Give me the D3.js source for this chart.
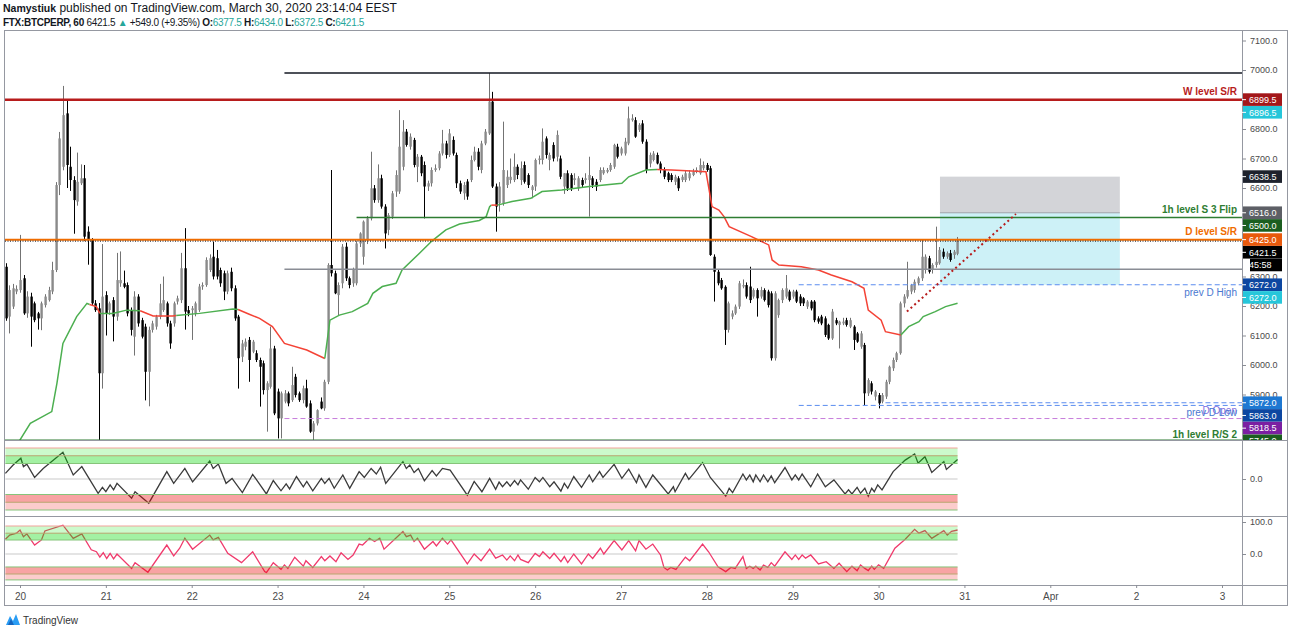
<!DOCTYPE html>
<html>
<head>
<meta charset="utf-8">
<script src="https://cdn.jsdelivr.net/npm/d3@7"></script>
<style>
  body { margin: 0; background: #fff; }
  svg { display: block; font-family: "Liberation Sans", Arial, sans-serif; }
</style>
</head>
<body>
<div class="chart"></div>
<script>
// ---- data (FTX:BTCPERP, 60 min) ----
const candleStart = 19 + 20 / 24;   // first bar: Mar 19, 20:00
// [open, high, low, close]
const candles = [
  [6333,6345,6150,6158],[6164,6270,6107,6254],[6198,6275,6190,6260],[6249,6270,6240,6258],[6254,6441,6245,6288],
  [6294,6305,6170,6175],[6175,6250,6160,6232],[6232,6245,6062,6164],[6209,6215,6145,6152],[6175,6180,6120,6158],
  [6158,6215,6118,6209],[6203,6240,6195,6232],[6220,6265,6215,6254],[6249,6350,6240,6322],[6322,6620,6315,6610],
  [6610,6790,6576,6768],[6672,6946,6660,6847],[6853,6900,6600,6678],[6672,6740,6590,6627],[6627,6640,6445,6559],
  [6554,6720,6540,6621],[6616,6680,6610,6633],[6633,6678,6420,6435],[6452,6470,6340,6424],[6424,6430,6200,6209],
  [6209,6220,6180,6186],[6192,6210,5746,5972],[5972,6410,5920,6232],[6237,6250,6100,6175],[6186,6215,6170,6209],
  [6220,6230,6080,6164],[6164,6380,6150,6288],[6277,6385,6265,6288],[6277,6320,6260,6265],[6271,6280,6165,6175],
  [6186,6195,6100,6119],[6096,6250,6032,6232],[6232,6240,6130,6141],[6152,6160,6090,6096],[6130,6140,5880,5977],
  [5977,6130,5860,6119],[6119,6150,6110,6141],[6130,6170,6120,6164],[6164,6275,6155,6209],[6186,6300,6180,6220],
  [6209,6215,6130,6141],[6141,6150,6055,6073],[6141,6215,6130,6209],[6215,6235,6205,6226],[6220,6380,6210,6328],
  [6328,6464,6120,6181],[6186,6200,6165,6175],[6186,6200,6085,6192],[6175,6215,6165,6209],[6186,6275,6180,6266],
  [6266,6280,6255,6271],[6271,6365,6265,6356],[6322,6375,6315,6362],[6367,6418,6290,6300],[6362,6390,6290,6300],
  [6322,6330,6265,6277],[6311,6320,6220,6249],[6249,6320,6240,6311],[6316,6330,6250,6260],[6260,6270,6150,6158],
  [6164,6170,5920,6023],[6028,6085,6010,6073],[6062,6090,6050,6079],[6085,6095,5943,6017],[6045,6085,6040,6079],
  [6040,6050,6010,6017],[6017,6025,5859,5994],[6006,6015,5900,5915],[5915,5945,5774,5938],[5926,6130,5920,6056],
  [6056,6065,5830,5836],[5910,5920,5751,5819],[5819,5910,5751,5904],[5876,5915,5870,5904],[5904,5910,5860,5870],
  [5881,5994,5875,5932],[5960,5970,5890,5898],[5904,5910,5875,5881],[5881,5930,5870,5921],[5921,5950,5855,5859],
  [5870,5880,5770,5774],[5774,5810,5746,5802],[5802,5850,5795,5847],[5876,5890,5850,5853],[5853,5950,5845,5943],
  [5943,6345,5935,6339],[6339,6661,6300,6311],[6311,6320,6240,6243],[6237,6280,6169,6271],[6277,6410,6260,6401],
  [6401,6415,6285,6294],[6294,6300,6260,6271],[6277,6330,6265,6322],[6277,6420,6270,6412],[6412,6450,6400,6446],
  [6367,6490,6340,6486],[6424,6505,6410,6497],[6497,6723,6490,6599],[6599,6610,6550,6559],[6559,6680,6550,6633],
  [6633,6645,6530,6537],[6537,6545,6395,6446],[6458,6515,6440,6508],[6503,6590,6495,6582],[6588,6660,6570,6644],
  [6588,6864,6580,6740],[6672,6830,6660,6791],[6791,6800,6740,6746],[6740,6785,6730,6774],[6763,6770,6670,6678],
  [6672,6715,6620,6706],[6706,6712,6640,6650],[6678,6690,6497,6605],[6605,6625,6590,6616],[6616,6670,6605,6661],
  [6661,6680,6655,6667],[6667,6725,6660,6717],[6717,6797,6710,6751],[6751,6760,6700,6712],[6712,6800,6705,6785],
  [6763,6775,6710,6717],[6712,6720,6600,6616],[6616,6625,6580,6588],[6582,6620,6560,6610],[6622,6630,6560,6571],
  [6627,6710,6620,6695],[6695,6740,6690,6723],[6723,6735,6660,6672],[6661,6760,6650,6751],[6751,6800,6745,6791],
  [6785,6990,6780,6893],[6893,6926,6600,6605],[6605,6615,6452,6537],[6548,6620,6520,6605],[6548,6825,6540,6661],
  [6610,6660,6600,6638],[6627,6700,6615,6638],[6627,6717,6620,6672],[6672,6680,6630,6644],[6627,6690,6610,6667],
  [6678,6690,6615,6621],[6644,6650,6600,6610],[6593,6610,6565,6605],[6605,6700,6590,6695],[6695,6710,6680,6700],
  [6695,6802,6680,6757],[6768,6775,6700,6712],[6695,6720,6660,6712],[6746,6755,6690,6700],[6706,6795,6690,6780],
  [6700,6710,6630,6638],[6605,6650,6580,6650],[6650,6660,6590,6599],[6644,6650,6590,6599],[6627,6650,6610,6633],
  [6599,6640,6590,6633],[6627,6635,6600,6610],[6627,6650,6615,6633],[6627,6706,6503,6644],[6633,6640,6600,6610],
  [6621,6630,6590,6605],[6627,6670,6620,6661],[6650,6670,6645,6661],[6655,6668,6650,6661],[6661,6685,6655,6678],
  [6672,6750,6665,6746],[6740,6750,6700,6706],[6717,6740,6710,6734],[6717,6770,6710,6757],[6751,6876,6745,6836],
  [6830,6850,6825,6836],[6830,6840,6770,6774],[6797,6820,6790,6814],[6819,6830,6750,6757],[6757,6765,6650,6661],
  [6683,6720,6670,6712],[6695,6725,6690,6717],[6712,6720,6680,6683],[6683,6690,6650,6661],[6661,6670,6630,6638],
  [6650,6655,6620,6627],[6644,6650,6620,6627],[6621,6645,6610,6638],[6633,6640,6590,6599],[6627,6645,6620,6638],
  [6627,6660,6620,6650],[6633,6660,6625,6650],[6644,6665,6640,6655],[6655,6670,6650,6661],[6650,6700,6645,6678],
  [6667,6690,6660,6678],[6678,6685,6655,6661],[6667,6675,6370,6373],[6367,6375,6215,6316],[6316,6325,6270,6277],
  [6288,6295,6255,6260],[6265,6270,6068,6119],[6119,6215,6110,6209],[6164,6185,6155,6175],[6175,6205,6170,6198],
  [6198,6285,6190,6277],[6266,6290,6260,6271],[6271,6280,6225,6232],[6266,6333,6210,6220],[6232,6260,6225,6254],
  [6254,6260,6164,6226],[6232,6265,6225,6254],[6254,6260,6215,6220],[6249,6255,6195,6203],[6243,6250,6015,6023],
  [6023,6250,6015,6243],[6169,6225,6160,6220],[6220,6260,6210,6254],[6232,6305,6225,6260],[6249,6255,6215,6220],
  [6232,6255,6225,6249],[6249,6255,6210,6215],[6232,6240,6200,6209],[6226,6230,6200,6209],[6198,6220,6190,6215],
  [6215,6220,6185,6192],[6215,6220,6145,6152],[6158,6165,6140,6147],[6164,6170,6135,6141],[6158,6165,6095,6102],
  [6136,6140,6085,6090],[6090,6190,6085,6181],[6152,6160,6135,6141],[6136,6150,6056,6147],[6141,6160,6135,6147],
  [6152,6160,6130,6136],[6130,6160,6125,6152],[6130,6135,6051,6085],[6107,6112,6075,6079],[6062,6115,6055,6107],
  [6068,6075,5864,5904],[5904,5955,5895,5949],[5938,5945,5900,5910],[5893,5915,5880,5910],[5898,5905,5853,5870],
  [5876,5905,5870,5898],[5893,5950,5885,5943],[5943,5998,5935,5994],[5989,6025,5980,6017],[6017,6045,6010,6040],
  [6040,6215,6035,6209],[6209,6240,6195,6232],[6232,6350,6225,6254],[6249,6275,6240,6271],[6254,6290,6245,6282],
  [6277,6300,6270,6294],[6294,6424,6285,6367],[6322,6375,6310,6367],[6362,6370,6310,6316],[6322,6345,6310,6339],
  [6339,6469,6330,6350],[6345,6400,6340,6390],[6384,6395,6360,6367],[6367,6385,6360,6379],[6379,6390,6350,6356],
  [6373,6390,6360,6384],[6377,6434,6372,6421.5]
];

// trend-coloured average line: segments of [day of March, price]; trend 1 = up (green), -1 = down (red)
const maSegments = [
  { trend: 1,  pts: [[19.9,5700],[20.0,5746],[20.12,5802],[20.37,5842],[20.43,5938],[20.50,6073],[20.66,6164],[20.78,6209],[20.81,6205]] },
  { trend: -1, pts: [[20.81,6205],[20.89,6198],[20.93,6175]] },
  { trend: 1,  pts: [[20.93,6175],[21.08,6175],[21.24,6186],[21.40,6184]] },
  { trend: -1, pts: [[21.40,6184],[21.55,6166],[21.78,6166],[21.82,6168]] },
  { trend: 1,  pts: [[21.82,6168],[22.09,6175],[22.48,6190],[22.54,6188]] },
  { trend: -1, pts: [[22.54,6188],[22.67,6172],[22.79,6158],[22.94,6130],[23.08,6073],[23.34,6051],[23.55,6022]] },
  { trend: 1,  pts: [[23.55,6022],[23.61,6152],[23.72,6169],[23.87,6181],[24.05,6209],[24.11,6243],[24.22,6266],[24.38,6277],[24.45,6322],[24.65,6378],[24.80,6421],[24.96,6458],[25.12,6478],[25.35,6490],[25.43,6503],[25.47,6537],[25.49,6542]] },
  { trend: -1, pts: [[25.49,6542],[25.56,6542]] },
  { trend: 1,  pts: [[25.56,6542],[25.73,6554],[25.95,6565],[26.08,6588],[26.31,6593],[26.63,6605],[27.01,6616],[27.09,6638],[27.29,6661],[27.42,6663]] },
  { trend: -1, pts: [[27.42,6663],[27.59,6661],[27.99,6655],[28.06,6537],[28.14,6525],[28.20,6503],[28.26,6469],[28.52,6435],[28.72,6407],[28.76,6356],[28.84,6339],[29.10,6333],[29.30,6322],[29.45,6305],[29.69,6282],[29.83,6260],[29.88,6186],[30.03,6152],[30.08,6113],[30.26,6102]] },
  { trend: 1,  pts: [[30.26,6102],[30.35,6130],[30.47,6147],[30.52,6164],[30.66,6181],[30.78,6198],[30.92,6209]] }
];

// horizontal drawings: price, start day, label
const levelNames  = ["top", "W level S/R", "1h level S 3 Flip", "D level S/R", "mid", "prev D High", "D Open", "prev D Low", "low", "1h level R/S 2"];
const levelPrices = [6990, 6899.5, 6500, 6425, 6325, 6272, 5872, 5863, 5818.5, 5745];
const levelStarts = [23.08, 19.8, 23.92, 19.8, 23.08, 29.07, 30.08, 29.07, 23.08, 19.8];

// long position tool
const posStart = 30.715, posEnd = 32.81;
const posEntry = 6516, posTarget = 6638.5, posStop = 6272;
// dotted trend line
const trendFrom = [30.33, 6181], trendTo = [31.6, 6512];
const lastPrice = 6421.5;

// right-scale tags
const tagValues = [6899.5, 6896.5, 6638.5, 6516.0, 6500.0, 6425.0, 6421.5, 6421.5, 6272.0, 6272.0, 5872.0, 5863.0, 5818.5, 5745.0];
const tagTexts  = ["6899.5","6896.5","6638.5","6516.0","6500.0","6425.0","6421.5","45:58","6272.0","6272.0","5872.0","5863.0","5818.5","5745.0"];
const tagColors = ["#a3171a","#26c6da","#1e222d","#5d5f66","#1b5e20","#e8590c","#000","#000","#0d47a1","#26c6da","#1e78d2","#0d47a1","#7b1fa2","#1b5e20"];

const priceTicks = [7100, 7000, 6900, 6800, 6700, 6600, 6500, 6400, 6300, 6200, 6100, 6000, 5900];
const dayTicks = [20, 21, 22, 23, 24, 25, 26, 27, 28, 29, 30, 31, 32, 33, 34];
const dayLabels = ["20","21","22","23","24","25","26","27","28","29","30","31","Apr","2","3"];

// oscillators: [day of March, value]
const osc1 = [
  [19.83,18],[19.92,45],[20.01,67],[20.04,40],[20.08,48],[20.17,5],[20.27,34],[20.50,86],[20.62,13],[20.72,40],
  [20.91,-46],[20.96,-27],[21.0,-41],[21.05,-19],[21.09,-35],[21.13,-14],[21.30,-62],[21.34,-41],[21.50,-78],[21.71,24],
  [21.79,-14],[21.92,34],[22.01,-9],[22.21,58],[22.25,34],[22.31,48],[22.40,-14],[22.47,2],[22.59,-44],[22.71,15],
  [22.87,-48],[22.95,-5],[23.04,-38],[23.10,-16],[23.14,-32],[23.22,8],[23.30,-25],[23.34,-8],[23.41,-38],[23.51,2],
  [23.55,-14],[23.60,2],[23.66,-30],[23.76,13],[23.84,-30],[23.95,24],[24.01,5],[24.09,34],[24.15,16],[24.20,38],
  [24.26,-14],[24.46,56],[24.50,34],[24.54,45],[24.59,21],[24.64,34],[24.71,-6],[24.80,27],[24.85,10],[24.92,34],
  [25.01,29],[25.21,-52],[25.29,-8],[25.38,-41],[25.47,2],[25.54,-33],[25.58,-10],[25.62,-25],[25.67,-9],[25.71,-23],
  [25.76,-5],[25.80,-19],[25.83,-3],[25.92,-33],[26.0,5],[26.05,-9],[26.09,5],[26.17,-25],[26.22,-9],[26.30,-39],
  [26.34,-14],[26.38,-30],[26.45,8],[26.54,-27],[26.63,13],[26.67,-9],[26.75,24],[26.79,5],[26.92,47],[27.01,2],
  [27.09,32],[27.18,-12],[27.21,13],[27.29,-27],[27.37,13],[27.55,-48],[27.61,-25],[27.63,-41],[27.75,18],[27.79,-1],
  [27.95,53],[28.04,5],[28.22,-55],[28.26,-30],[28.30,-44],[28.42,16],[28.46,-3],[28.50,13],[28.54,-9],[28.57,13],
  [28.62,-9],[28.66,13],[28.71,-9],[28.75,10],[28.79,-12],[28.91,37],[28.99,-3],[29.03,13],[29.07,-3],[29.11,16],
  [29.21,-25],[29.29,16],[29.38,-25],[29.48,-3],[29.61,-48],[29.65,-35],[29.69,-48],[29.75,-27],[29.79,-46],[29.84,-30],
  [29.88,-55],[29.92,-30],[29.95,-41],[29.99,-19],[30.04,-35],[30.17,24],[30.31,61],[30.42,81],[30.46,51],[30.54,72],
  [30.62,21],[30.76,56],[30.79,31],[30.92,63]
];
const osc2 = [
  [19.83,46],[19.88,59],[19.96,65],[20.0,75],[20.04,54],[20.08,63],[20.17,28],[20.25,44],[20.29,72],[20.50,90],
  [20.62,49],[20.72,63],[20.83,13],[20.89,7],[20.93,-10],[20.97,4],[21.01,-14],[21.05,2],[21.09,-15],[21.13,0],
  [21.30,-45],[21.34,-27],[21.49,-57],[21.71,28],[21.79,-6],[21.86,18],[21.92,49],[22.01,15],[22.21,59],[22.25,44],
  [22.31,52],[22.42,2],[22.58,-27],[22.71,7],[22.85,-55],[22.87,-58],[22.95,-27],[23.04,-48],[23.08,-34],[23.12,-45],
  [23.20,-10],[23.30,-38],[23.33,-21],[23.41,-42],[23.51,-8],[23.55,-21],[23.61,-6],[23.68,-24],[23.74,4],[23.82,-17],
  [23.88,-3],[23.95,31],[23.99,28],[24.07,49],[24.13,39],[24.19,49],[24.24,15],[24.46,70],[24.50,54],[24.55,59],
  [24.59,39],[24.63,49],[24.71,15],[24.81,39],[24.85,25],[24.92,49],[24.98,31],[25.02,44],[25.21,-31],[25.29,0],
  [25.37,-21],[25.47,15],[25.54,-13],[25.58,-8],[25.62,-3],[25.67,-19],[25.71,-6],[25.76,-21],[25.80,-3],[25.83,-17],
  [25.92,-27],[26.0,2],[26.05,-8],[26.09,7],[26.17,-14],[26.22,2],[26.30,-24],[26.34,-8],[26.38,-27],[26.45,0],
  [26.54,-31],[26.62,0],[26.67,-14],[26.76,18],[26.80,0],[26.92,42],[27.01,13],[27.09,42],[27.17,10],[27.21,42],
  [27.29,15],[27.37,31],[27.46,-3],[27.50,-42],[27.54,-50],[27.58,-42],[27.64,-48],[27.75,-10],[27.80,-21],[27.95,31],
  [28.02,7],[28.13,-40],[28.22,-55],[28.28,-42],[28.33,-45],[28.42,-8],[28.46,-45],[28.50,-38],[28.54,-45],[28.57,-38],
  [28.62,-50],[28.66,-35],[28.71,-42],[28.75,-27],[28.79,-38],[28.91,7],[28.99,-17],[29.03,-3],[29.07,-17],[29.11,-3],
  [29.15,-13],[29.21,-3],[29.30,-31],[29.39,-24],[29.48,-45],[29.54,-29],[29.63,-55],[29.69,-38],[29.75,-52],[29.79,-34],
  [29.84,-45],[29.88,-52],[29.92,-38],[29.95,-48],[30.0,-34],[30.06,-45],[30.19,18],[30.31,46],[30.42,77],[30.47,65],
  [30.54,73],[30.62,49],[30.76,73],[30.80,59],[30.85,71],[30.92,75]
];
const osc1Bands = [100, 75, 50, -50, -75, -100];
const osc2Bands = [87.5, 65, 43.75, -40.5, -62.5, -81];
const osc1Ticks = [0];
const osc2Ticks = [100, 0];

// ---- layout ----
const W = 1290, H = 633;
const paneL = 5, paneR = 1242, outerR = 1288;
const paneT = 31, paneB = 440, osc1B = 516, osc2B = 585, axisB = 606;
const tagH = 12.7;

const day = d => new Date(Date.UTC(2020, 2, 1) + (d - 1) * 864e5);
const x = d3.scaleUtc().domain([day(20), day(34)]).range([20, 1222]);
const y = d3.scaleLinear().domain([5900, 7000]).range([394.5, 70]);
const yo1 = d3.scaleLinear().domain([0, 100]).range([479, 448]);
const yo2 = d3.scaleLinear().domain([0, 100]).range([554, 522]);
const xd = d => x(day(d));

const svg = d3.select(".chart").append("svg").attr("width", W).attr("height", H);
svg.append("rect").attr("width", W).attr("height", H).attr("fill", "#fff");

const defs = svg.append("defs");
defs.append("clipPath").attr("id", "clipMain").append("rect")
  .attr("x", paneL).attr("y", paneT).attr("width", paneR - paneL).attr("height", paneB - paneT);
defs.append("clipPath").attr("id", "clipTags").append("rect")
  .attr("x", paneR).attr("y", paneT).attr("width", outerR - paneR).attr("height", paneB - paneT);

// ---- header ----
const head = svg.append("g").attr("fill", "#131722");
const h1 = head.append("text").attr("x", 3).attr("y", 12).attr("font-size", 12);
h1.append("tspan").attr("font-weight", "bold").attr("font-size", 10.5).text("Namystiuk");
h1.append("tspan").text(" published on TradingView.com, March 30, 2020 23:14:04 EEST");
const h2 = head.append("text").attr("x", 3).attr("y", 26).attr("font-size", 10).attr("letter-spacing", -0.3);
const teal = "#26a69a";
[["FTX:BTCPERP, 60", "bold", null], [" 6421.5 ", null, null], ["\u25B2", null, teal], [" +549.0 (+9.35%) ", null, null],
 ["O:", "bold", null], ["6377.5", null, teal], [" H:", "bold", null], ["6434.0", null, teal],
 [" L:", "bold", null], ["6372.5", null, teal], [" C:", "bold", null], ["6421.5", null, teal]]
  .forEach(([t, w, c]) => {
    const s = h2.append("tspan").text(t);
    if (w) s.attr("font-weight", w);
    if (c) s.attr("fill", c);
  });

// ---- main pane ----
const main = svg.append("g").attr("clip-path", "url(#clipMain)");

// long position tool
main.append("rect").attr("x", xd(posStart)).attr("width", xd(posEnd) - xd(posStart))
  .attr("y", y(posTarget)).attr("height", y(posEntry) - y(posTarget)).attr("fill", "#d3d4d8");
main.append("rect").attr("x", xd(posStart)).attr("width", xd(posEnd) - xd(posStart))
  .attr("y", y(posEntry)).attr("height", y(posStop) - y(posEntry)).attr("fill", "#cdf1f7");
main.append("line").attr("x1", xd(posStart)).attr("x2", xd(posEnd))
  .attr("y1", y(posEntry)).attr("y2", y(posEntry)).attr("stroke", "#9fa2a8").attr("stroke-width", 1);

// candles
const candleX = i => xd(candleStart + i / 24);
const up = d => d[3] >= d[0];
main.append("g").selectAll("line").data(candles).join("line")
  .attr("x1", (d, i) => Math.round(candleX(i)) + 0.5).attr("x2", (d, i) => Math.round(candleX(i)) + 0.5)
  .attr("y1", d => y(d[1])).attr("y2", d => y(d[2]))
  .attr("stroke", d => up(d) ? "#737373" : "#000").attr("stroke-width", 1);
main.append("g").selectAll("rect").data(candles).join("rect")
  .attr("x", (d, i) => Math.round(candleX(i)) - 0.6).attr("width", 2.4)
  .attr("y", d => y(Math.max(d[0], d[3])))
  .attr("height", d => Math.max(1, Math.abs(y(d[0]) - y(d[3]))))
  .attr("fill", d => up(d) ? "#8a8a8a" : "#000");

// average line
const maLine = d3.line().x(d => xd(d[0])).y(d => y(d[1]));
main.append("g").selectAll("path").data(maSegments).join("path")
  .attr("d", s => maLine(s.pts)).attr("fill", "none")
  .attr("stroke", s => s.trend > 0 ? "#4caf50" : "#f44336").attr("stroke-width", 1.5);

// horizontal levels
const levelStyle = {
  "top":               { c: "#131722", w: 1.5 },
  "W level S/R":       { c: "#b71c1c", w: 2.5 },
  "1h level S 3 Flip": { c: "#2e7d32", w: 1.5 },
  "D level S/R":       { c: "#ef6c00", w: 2 },
  "mid":               { c: "#8a8d95", w: 1.5 },
  "prev D High":       { c: "#5b8def", w: 1, dash: "5,3" },
  "D Open":            { c: "#5b8def", w: 1, dash: "5,3" },
  "prev D Low":        { c: "#5b8def", w: 1, dash: "5,3" },
  "low":               { c: "#c77ddb", w: 1, dash: "5,3" },
  "1h level R/S 2":    { c: "#2e7d32", w: 1.5 }
};
levelNames.forEach((n, i) => {
  const st = levelStyle[n];
  main.append("line")
    .attr("x1", xd(levelStarts[i])).attr("x2", paneR)
    .attr("y1", y(levelPrices[i])).attr("y2", y(levelPrices[i]))
    .attr("stroke", st.c).attr("stroke-width", st.w)
    .attr("stroke-dasharray", st.dash || null);
});

// last price dotted line
main.append("line").attr("x1", paneL).attr("x2", paneR)
  .attr("y1", y(lastPrice) + 0.5).attr("y2", y(lastPrice) + 0.5)
  .attr("stroke", "#131722").attr("stroke-width", 1).attr("stroke-dasharray", "1,1.5");

// dotted trend line
main.append("line")
  .attr("x1", xd(trendFrom[0])).attr("y1", y(trendFrom[1]))
  .attr("x2", xd(trendTo[0])).attr("y2", y(trendTo[1]))
  .attr("stroke", "#b71c1c").attr("stroke-width", 2).attr("stroke-dasharray", "2,3");

// level labels
const labelStyle = {
  "W level S/R":       { c: "#b71c1c", b: true,  dy: -5 },
  "1h level S 3 Flip": { c: "#2e7d32", b: true,  dy: -5 },
  "D level S/R":       { c: "#ef6c00", b: true,  dy: -5 },
  "prev D High":       { c: "#4a78d0", b: false, dy: 11 },
  "D Open":            { c: "#7d6be0", b: false, dy: 11 },
  "prev D Low":        { c: "#4a78d0", b: false, dy: 11 },
  "1h level R/S 2":    { c: "#2e7d32", b: true,  dy: -2 }
};
levelNames.forEach((n, i) => {
  const st = labelStyle[n];
  if (!st) return;
  main.append("text").attr("x", 1237).attr("y", y(levelPrices[i]) + st.dy)
    .attr("text-anchor", "end").attr("font-size", 10)
    .attr("font-weight", st.b ? "bold" : "normal").attr("fill", st.c).text(n);
});

// ---- oscillators ----
function drawOsc(data, ys, bands, lineColor) {
  const g = svg.append("g");
  const x0 = xd(data[0][0]), x1 = xd(data[data.length - 1][0]);
  g.append("line").attr("x1", x0).attr("x2", x1).attr("y1", ys(0)).attr("y2", ys(0))
    .attr("stroke", "#c9c9c9").attr("stroke-width", 1);
  g.append("path").datum(data)
    .attr("d", d3.line().x(d => xd(d[0])).y(d => ys(d[1])))
    .attr("fill", "none").attr("stroke", lineColor).attr("stroke-width", 1.3);
  const fills = [["rgba(0,230,0,0.2)", 0, 1], ["rgba(0,215,0,0.36)", 1, 2],
                 ["rgba(235,0,0,0.36)", 3, 4], ["rgba(240,0,0,0.2)", 4, 5]];
  fills.forEach(([c, a, b]) => {
    g.append("rect").attr("x", x0).attr("width", x1 - x0)
      .attr("y", ys(bands[a])).attr("height", ys(bands[b]) - ys(bands[a])).attr("fill", c);
  });
  const edge = ["#f2a19b", "#b9a56f", "#86c47a", "#86c47a", "#b9a56f", "#86c47a"];
  bands.forEach((b, i) => {
    g.append("line").attr("x1", x0).attr("x2", x1).attr("y1", ys(b)).attr("y2", ys(b))
      .attr("stroke", edge[i]).attr("stroke-width", 1);
  });
}
drawOsc(osc1, yo1, osc1Bands, "#3b3b3b");
drawOsc(osc2, yo2, osc2Bands, "#f03a6c");

// ---- frame / separators ----
const frame = svg.append("g").attr("stroke", "#9598a1").attr("fill", "none");
frame.append("rect").attr("x", paneL - 0.5).attr("y", paneT - 0.5)
  .attr("width", outerR - paneL).attr("height", axisB - paneT);
[paneB, osc1B, osc2B].forEach(v => frame.append("line")
  .attr("x1", paneL).attr("x2", outerR).attr("y1", v + 0.5).attr("y2", v + 0.5));
frame.append("line").attr("x1", paneR + 0.5).attr("x2", paneR + 0.5).attr("y1", paneT).attr("y2", axisB);

// tag positions (pushed down so they don't collide)
const tagY = [];
tagValues.forEach((v, i) => tagY.push(Math.max(y(v), i ? tagY[i - 1] + tagH : -Infinity)));

// ---- price axis (labels that sit under a tag are left out) ----
const axisFont = "Liberation Sans, Arial, sans-serif";
const visibleTicks = priceTicks.filter(p => !tagY.some(t => Math.abs(t - y(p)) < 6.5));
const pAxis = svg.append("g").attr("transform", `translate(${paneR},0)`)
  .call(d3.axisRight(y).tickValues(visibleTicks).tickSize(4).tickPadding(4).tickFormat(d3.format(".1f")));
pAxis.select(".domain").remove();
pAxis.selectAll("line").attr("stroke", "#8a8d95");
pAxis.selectAll("text").attr("fill", "#4a4a4a").attr("font-size", 9).attr("font-family", axisFont);

[[yo1, osc1Ticks], [yo2, osc2Ticks]].forEach(([s, t]) => {
  const a = svg.append("g").attr("transform", `translate(${paneR},0)`)
    .call(d3.axisRight(s).tickValues(t).tickSize(4).tickPadding(4).tickFormat(d3.format(".1f")));
  a.select(".domain").remove();
  a.selectAll("line").attr("stroke", "#8a8d95");
  a.selectAll("text").attr("fill", "#4a4a4a").attr("font-size", 9).attr("font-family", axisFont);
});

// price tags
const tags = svg.append("g").attr("clip-path", "url(#clipTags)");
tagValues.forEach((v, i) => {
  const cy = tagY[i];
  const isTimer = tagTexts[i].includes(":");
  const bx = isTimer ? paneR + 8 : paneR + 1;
  tags.append("rect").attr("x", bx).attr("y", cy - tagH / 2).attr("width", 1282 - bx).attr("height", tagH - 0.1)
    .attr("fill", tagColors[i]);
  if (!isTimer) tags.append("line").attr("x1", paneR).attr("x2", paneR + 4).attr("y1", cy).attr("y2", cy)
    .attr("stroke", "#fff");
  tags.append("text").attr("x", paneR + 7).attr("y", cy + 3.2)
    .attr("font-size", 9).attr("fill", "#fff").text(tagTexts[i]);
});

// ---- time axis ----
const tAxis = svg.append("g").attr("transform", `translate(0,${osc2B})`)
  .call(d3.axisBottom(x).tickValues(dayTicks.map(day)).tickSize(3).tickPadding(5)
    .tickFormat((d, i) => dayLabels[i]));
tAxis.select(".domain").remove();
tAxis.selectAll("line").attr("stroke", "#8a8d95");
tAxis.selectAll("text").attr("fill", "#4a4a4a").attr("font-size", 10).attr("font-family", axisFont);

// ---- footer logo ----
const logo = svg.append("g").attr("transform", "translate(6,613)");
logo.append("path").attr("d", "M0,12 L4,3 L7,8 L10,1 L14,12 Z").attr("fill", "#2a9df4");
logo.append("path").attr("d", "M2,12 L5,6 L8,12 Z").attr("fill", "#1565c0");
svg.append("text").attr("x", 23).attr("y", 624).attr("font-size", 10).attr("fill", "#333")
  .text("TradingView");
</script>
</body>
</html>
